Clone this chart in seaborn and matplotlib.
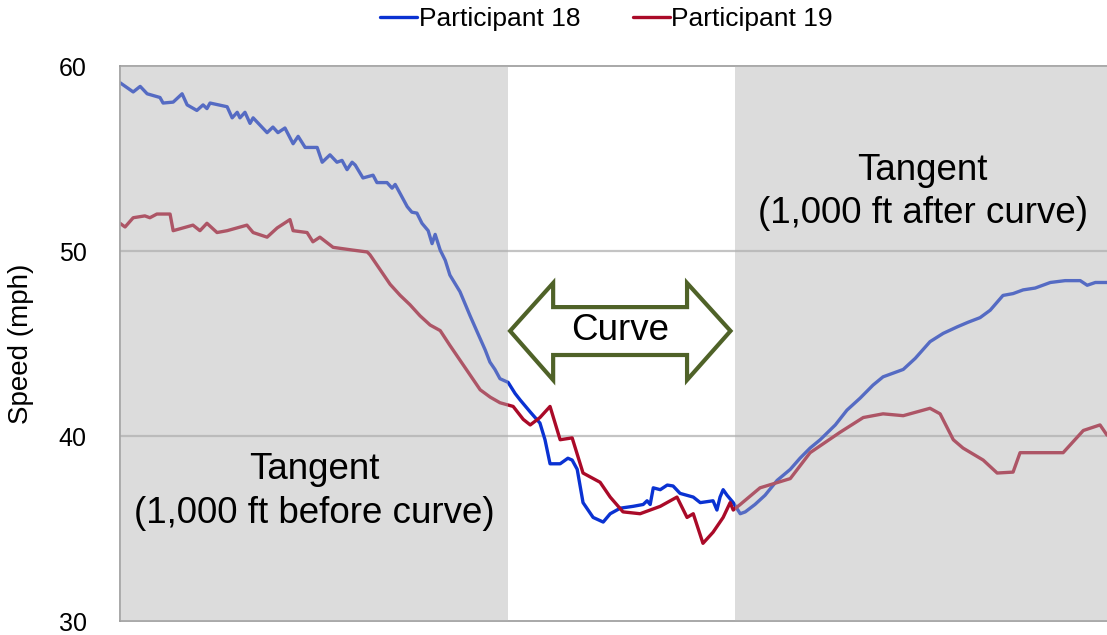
import numpy as np
import pandas as pd
import matplotlib.pyplot as plt
import seaborn as sns
from matplotlib.patches import Polygon

# speed profiles (distance in ft from start of approach tangent)
p18_ft = [0, 34, 52, 70, 103, 111, 137, 160, 173, 198, 214, 224, 232, 276, 289, 302, 309,
          322, 335, 343, 379, 394, 407, 425, 446, 459, 477, 508, 521, 541, 559, 572, 585,
          598, 606, 626, 652, 662, 688, 701, 709, 722, 740, 752, 765, 778, 794, 804, 812,
          825, 838, 850, 876, 902, 923, 941, 953, 966, 979, 1000, 1018, 1031, 1057, 1082,
          1095, 1108, 1134, 1154, 1165, 1178, 1193, 1219, 1245, 1263, 1289, 1322, 1348,
          1358, 1366, 1374, 1392, 1410, 1425, 1443, 1477, 1495, 1528, 1538, 1546, 1554,
          1564, 1580, 1598, 1611, 1636, 1662, 1693, 1727, 1752, 1778, 1804, 1843, 1873,
          1907, 1940, 1966, 1992, 2018, 2049, 2087, 2121, 2157, 2185, 2216, 2242, 2275,
          2301, 2327, 2358, 2397, 2435, 2474, 2492, 2513, 2543]
p18_mph = [59.1, 58.6, 58.9, 58.5, 58.3, 58.0, 58.05, 58.5, 57.9, 57.6, 57.9, 57.7, 58.0,
           57.8, 57.2, 57.5, 57.2, 57.5, 56.9, 57.2, 56.4, 56.7, 56.4, 56.65, 55.8, 56.2,
           55.6, 55.6, 54.8, 55.2, 54.8, 54.9, 54.4, 54.8, 54.65, 53.95, 54.1, 53.7, 53.7,
           53.4, 53.6, 53.1, 52.4, 52.1, 52.05, 51.5, 51.1, 50.4, 50.9, 50.05, 49.5, 48.7,
           47.8, 46.5, 45.5, 44.65, 44.0, 43.6, 43.1, 42.9, 42.3, 41.95, 41.3, 40.7, 39.8,
           38.5, 38.5, 38.8, 38.7, 38.2, 36.4, 35.6, 35.35, 35.8, 36.1, 36.2, 36.3, 36.5,
           36.3, 37.2, 37.1, 37.35, 37.3, 36.9, 36.7, 36.4, 36.5, 36.0, 36.7, 37.1, 36.8,
           36.4, 35.8, 35.9, 36.3, 36.8, 37.6, 38.2, 38.8, 39.35, 39.8, 40.6, 41.4, 42.05,
           42.75, 43.2, 43.4, 43.6, 44.2, 45.1, 45.55, 45.9, 46.15, 46.4, 46.8, 47.6, 47.7,
           47.9, 48.0, 48.3, 48.4, 48.4, 48.15, 48.3, 48.3]

p19_ft = [0, 13, 34, 64, 77, 95, 129, 137, 188, 206, 224, 250, 276, 327, 343, 379, 405,
          438, 446, 482, 497, 515, 549, 600, 637, 644, 670, 696, 722, 747, 773, 799, 825,
          850, 876, 902, 928, 954, 979, 1013, 1039, 1057, 1082, 1108, 1134, 1165, 1193,
          1237, 1263, 1296, 1340, 1392, 1435, 1461, 1477, 1502, 1528, 1554, 1572, 1580,
          1598, 1649, 1727, 1778, 1855, 1915, 1966, 2018, 2087, 2113, 2147, 2172, 2224,
          2260, 2301, 2319, 2430, 2482, 2525, 2543]
p19_mph = [51.5, 51.3, 51.8, 51.9, 51.8, 52.0, 52.0, 51.1, 51.4, 51.1, 51.5, 51.0, 51.1,
           51.4, 51.0, 50.75, 51.25, 51.7, 51.1, 51.0, 50.5, 50.75, 50.2, 50.05, 49.95,
           49.8, 49.0, 48.2, 47.6, 47.1, 46.5, 46.0, 45.7, 44.9, 44.1, 43.3, 42.5, 42.1,
           41.8, 41.6, 40.9, 40.6, 41.0, 41.6, 39.8, 39.9, 38.0, 37.5, 36.7, 35.9, 35.8,
           36.2, 36.7, 35.6, 35.8, 34.2, 34.8, 35.6, 36.4, 36.0, 36.3, 37.2, 37.7, 39.1,
           40.2, 41.0, 41.2, 41.1, 41.5, 41.2, 39.8, 39.35, 38.7, 38.0, 38.05, 39.1, 39.1,
           40.3, 40.6, 40.05]

participants = ['Participant 18', 'Participant 19']
curve_start = 1000
curve_end = 1585
x_max = 2543
y_ticks = [30, 40, 50, 60]

df = pd.concat([
    pd.DataFrame({'distance_ft': p18_ft, 'speed_mph': p18_mph, 'participant': participants[0]}),
    pd.DataFrame({'distance_ft': p19_ft, 'speed_mph': p19_mph, 'participant': participants[1]}),
])

sns.set_style('white')
plt.rcParams['font.family'] = ['Liberation Sans', 'DejaVu Sans']
plt.rcParams['text.color'] = 'black'
plt.rcParams['axes.labelcolor'] = 'black'
plt.rcParams['ytick.color'] = 'black'

fig = plt.figure(figsize=(11.07, 6.35), dpi=100)
ax = fig.add_axes([0.1084, 0.022, 0.8916, 0.874])

palette = {participants[0]: '#0a32d2', participants[1]: '#aa0a28'}
sns.lineplot(data=df, x='distance_ft', y='speed_mph', hue='participant', palette=palette,
             estimator=None, sort=False, lw=2.4, ax=ax, zorder=2)

ax.set_xlim(0, x_max)
ax.set_ylim(30, 60)
ax.set_yticks(y_ticks)
ax.set_xticks([])
ax.set_xlabel('')
ax.set_ylabel('Speed (mph)', fontsize=20, labelpad=18)
ax.tick_params(axis='y', length=0, pad=24, labelsize=18)

for y in [40, 50]:
    ax.axhline(y, color='#c4c4c4', lw=1.6, zorder=1)

# grey tangent sections drawn over the lines (washes them out like the original)
shade = (178 / 255, 178 / 255, 178 / 255)
ax.axvspan(0, curve_start, color=shade, alpha=0.45, lw=0, zorder=3)
ax.axvspan(curve_end, x_max, color=shade, alpha=0.45, lw=0, zorder=3)

for side in ['left', 'bottom', 'top']:
    ax.spines[side].set_color('#9a9a9a')
    ax.spines[side].set_linewidth(1.2)
ax.spines['right'].set_visible(False)

# double-headed "Curve" arrow
mid = 45.68
x0, x1 = curve_start + 5, curve_end - 12
hx0, hx1 = 1116, 1461
arrow = Polygon([(x0, mid), (hx0, 48.27), (hx0, 46.97), (hx1, 46.97), (hx1, 48.27),
                 (x1, mid), (hx1, 43.03), (hx1, 44.38), (hx0, 44.38), (hx0, 43.03)],
                closed=True, fc='white', ec='#4f6228', lw=3, zorder=4, joinstyle='miter')
ax.add_patch(arrow)
ax.text((x0 + x1) / 2, mid, 'Curve', ha='center', va='center', fontsize=26.5, zorder=5)

ax.text(500, 37.0, 'Tangent\n(1,000 ft before curve)', ha='center', va='center',
        fontsize=26.5, linespacing=1.3, zorder=5)
ax.text(2068, 53.2, 'Tangent\n(1,000 ft after curve)', ha='center', va='center',
        fontsize=26.5, linespacing=1.3, zorder=5)

ax.legend(loc='center', bbox_to_anchor=(0.493, 1.085), ncol=2, frameon=False,
          fontsize=19, handlelength=1.4, handletextpad=0.05, columnspacing=2.0)

fig.savefig('out.png', dpi=100)
